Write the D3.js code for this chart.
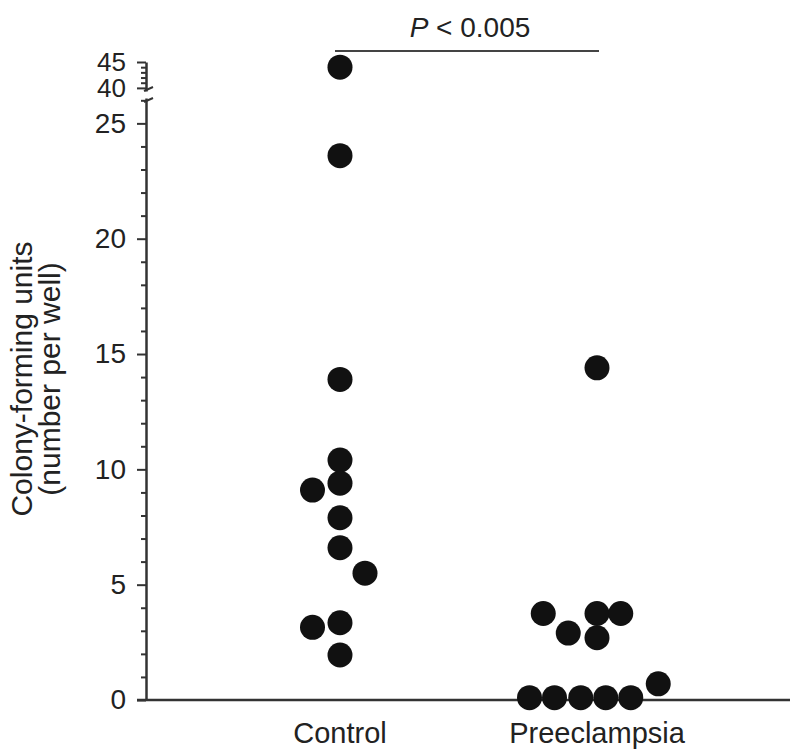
<!DOCTYPE html>
<html>
<head>
<meta charset="utf-8">
<title>Colony-forming units</title>
<script src="https://d3js.org/d3.v7.min.js"></script>
<style>
  body { margin: 0; background: #fff; }
  svg text { font-family: "Liberation Sans", Arial, sans-serif; fill: #222; }
  .axis path, .axis line { stroke: #333; }
</style>
</head>
<body>
<svg id="chart" width="800" height="754"></svg>
<script>
// groups and values
var groups = ["Control", "Preeclampsia"];
var controlValues = [44.0, 23.6, 13.9, 10.4, 9.4, 9.1, 7.9, 6.6, 5.5, 3.35, 3.15, 1.95];
var controlJitter = [0, 0, 0, 0, 0, -1.1, 0, 0, 1, 0, -1.1, 0];
var preeclampsiaValues = [14.4, 3.75, 3.75, 3.75, 2.9, 2.7, 0.7, 0.1, 0.1, 0.1, 0.1, 0.1];
var preeclampsiaJitter = [0, -2.15, 0, 0.95, -1.15, 0, 2.45, -2.7, -1.7, -0.65, 0.35, 1.35];
var lowerTicks = [0, 5, 10, 15, 20, 25];
var upperTicks = [40, 45];
var pLabel = "< 0.005";

var svg = d3.select("#chart");

var x = d3.scalePoint().domain(groups).range([340, 597]);
var jit = d3.scaleLinear().domain([0, 1]).range([0, 25]);

// broken y axis: two scales
var yLow = d3.scaleLinear().domain([0, 26.1]).range([700, 98]);
var yHigh = d3.scaleLinear().domain([39.4, 45]).range([91, 62]);
function y(v) { return v > 30 ? yHigh(v) : yLow(v); }

var axisX = 146;

function drawAxis(scale, majors, fs) {
  var d = scale.domain();
  var minors = d3.range(Math.ceil(d[0]), Math.floor(d[1]) + 1).filter(v => majors.indexOf(v) < 0);
  svg.append("g").attr("class", "axis")
    .attr("transform", "translate(" + axisX + ",0)")
    .call(d3.axisLeft(scale).tickValues(minors).tickSize(5).tickFormat(""))
    .call(g => g.select(".domain").remove())
    .selectAll("line").attr("stroke-width", 2);
  var g = svg.append("g").attr("class", "axis")
    .attr("transform", "translate(" + axisX + ",0)")
    .call(d3.axisLeft(scale).tickValues(majors).tickFormat(d3.format("d"))
      .tickSize(9).tickSizeOuter(0).tickPadding(11));
  g.select(".domain").attr("stroke-width", 2.5);
  g.selectAll("line").attr("stroke-width", 2);
  g.selectAll("text").style("font-size", fs);
}
drawAxis(yLow, lowerTicks, "28px");
drawAxis(yHigh, upperTicks, "26px");

// break marks
[yHigh.range()[0] - 2, yLow.range()[1] + 2].forEach(function (yy) {
  svg.append("line")
    .attr("x1", axisX - 2).attr("y1", yy + 2)
    .attr("x2", axisX + 7).attr("y2", yy - 2)
    .attr("stroke", "#333").attr("stroke-width", 2);
});

// x axis line
svg.append("line")
  .attr("x1", 137).attr("x2", 790)
  .attr("y1", yLow(0)).attr("y2", yLow(0))
  .attr("stroke", "#333").attr("stroke-width", 2.5);

svg.selectAll(".xlabel")
  .data(groups)
  .enter().append("text")
  .attr("class", "xlabel")
  .attr("x", d => x(d))
  .attr("y", 743)
  .attr("text-anchor", "middle")
  .style("font-size", "29px")
  .text(d => d);

// y title
var yt = svg.append("g").attr("transform", "translate(0,379) rotate(-90)");
yt.append("text").attr("x", 0).attr("y", 32).attr("text-anchor", "middle")
  .style("font-size", "30px").text("Colony-forming units");
yt.append("text").attr("x", 0).attr("y", 60).attr("text-anchor", "middle")
  .style("font-size", "30px").text("(number per well)");

// dots
var points = [];
controlValues.forEach((v, i) => points.push({ g: "Control", v: v, j: controlJitter[i] }));
preeclampsiaValues.forEach((v, i) => points.push({ g: "Preeclampsia", v: v, j: preeclampsiaJitter[i] }));

svg.append("g").selectAll("circle")
  .data(points)
  .enter().append("circle")
  .attr("cx", d => x(d.g) + jit(d.j))
  .attr("cy", d => y(d.v))
  .attr("r", 12.5)
  .attr("fill", "#111");

// significance bar
svg.append("line")
  .attr("x1", x("Control") - 5).attr("x2", x("Preeclampsia") + 2)
  .attr("y1", 51).attr("y2", 51)
  .attr("stroke", "#444").attr("stroke-width", 2);

var pt = svg.append("text")
  .attr("x", 470).attr("y", 37)
  .attr("text-anchor", "middle")
  .style("font-size", "28px");
pt.append("tspan").style("font-style", "italic").text("P");
pt.append("tspan").text(" " + pLabel);
</script>
</body>
</html>
